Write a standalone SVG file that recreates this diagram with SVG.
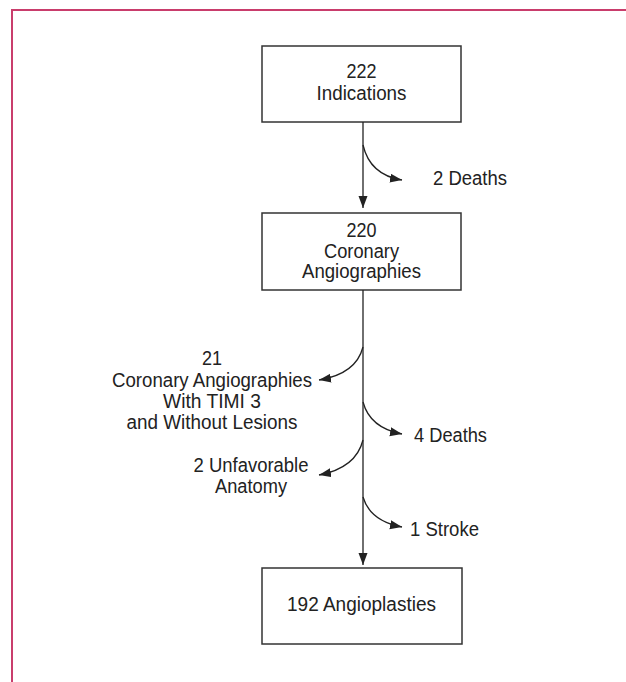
<svg xmlns="http://www.w3.org/2000/svg" width="626" height="682" viewBox="0 0 626 682">
<style>
.box{fill:#fff;stroke:#333;stroke-width:1.5}
.t{font-family:"Liberation Sans",Arial,sans-serif;font-size:19.5px;fill:#222}
.m{text-anchor:middle}
.c{fill:none;stroke:#222;stroke-width:1.3}
</style>
<defs>
<marker id="ah" markerUnits="userSpaceOnUse" markerWidth="13" markerHeight="10" refX="12" refY="4.5" orient="auto">
<path d="M0,0 L12,4.5 L0,9 z" fill="#222"/>
</marker>
</defs>
<rect width="626" height="682" fill="#fff"/>
<path d="M12,682 L12,10 L626,10" fill="none" stroke="#c93d6c" stroke-width="2"/>
<g id="n1">
<rect class="box" x="262" y="46" width="199" height="76"/>
<text class="t m" x="361.5" y="78" textLength="30" lengthAdjust="spacingAndGlyphs">222</text>
<text class="t m" x="361.5" y="100" textLength="90" lengthAdjust="spacingAndGlyphs">Indications</text>
</g>
<g id="n2">
<rect class="box" x="262" y="213" width="199" height="77"/>
<text class="t m" x="361.5" y="237" textLength="30" lengthAdjust="spacingAndGlyphs">220</text>
<text class="t m" x="361.5" y="258" textLength="75" lengthAdjust="spacingAndGlyphs">Coronary</text>
<text class="t m" x="361.5" y="278" textLength="119" lengthAdjust="spacingAndGlyphs">Angiographies</text>
</g>
<g id="n3">
<rect class="box" x="262" y="568" width="200" height="76"/>
<text class="t m" x="361.5" y="611" textLength="149" lengthAdjust="spacingAndGlyphs">192 Angioplasties</text>
</g>
<g id="l1"><text class="t" x="433" y="185" textLength="74" lengthAdjust="spacingAndGlyphs">2 Deaths</text></g>
<g id="l2">
<text class="t m" x="212" y="365" textLength="20" lengthAdjust="spacingAndGlyphs">21</text>
<text class="t m" x="212" y="387" textLength="200" lengthAdjust="spacingAndGlyphs">Coronary Angiographies</text>
<text class="t m" x="212" y="408" textLength="98" lengthAdjust="spacingAndGlyphs">With TIMI 3</text>
<text class="t m" x="212" y="429" textLength="171" lengthAdjust="spacingAndGlyphs">and Without Lesions</text>
</g>
<g id="l3"><text class="t" x="414" y="442" textLength="73" lengthAdjust="spacingAndGlyphs">4 Deaths</text></g>
<g id="l4">
<text class="t m" x="251" y="472" textLength="115" lengthAdjust="spacingAndGlyphs">2 Unfavorable</text>
<text class="t m" x="251" y="493" textLength="72" lengthAdjust="spacingAndGlyphs">Anatomy</text>
</g>
<g id="l5"><text class="t" x="410" y="536" textLength="69" lengthAdjust="spacingAndGlyphs">1 Stroke</text></g>
<g id="connectors">
<path class="c" d="M363,122 L363,208" marker-end="url(#ah)"/>
<path class="c" d="M363,290 L363,565" marker-end="url(#ah)"/>
<path class="c" d="M363,145 Q370,175 402,180" marker-end="url(#ah)"/>
<path class="c" d="M363,347 Q356,374 319,380" marker-end="url(#ah)"/>
<path class="c" d="M363,402 Q370,428 402,434" marker-end="url(#ah)"/>
<path class="c" d="M363,440 Q356,468 319,475" marker-end="url(#ah)"/>
<path class="c" d="M363,497 Q370,521 402,527" marker-end="url(#ah)"/>
</g>
</svg>
